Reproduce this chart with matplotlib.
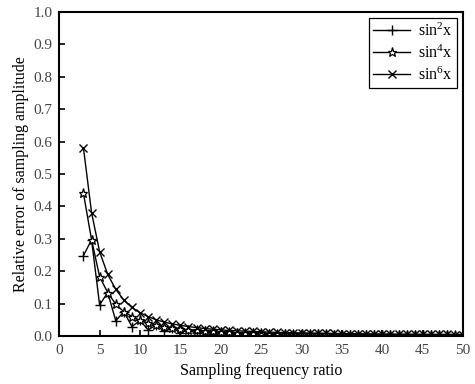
import matplotlib

matplotlib.use("Agg")
import matplotlib.pyplot as plt

ratio = list(range(3, 51))

sin2_err = [0.248, 0.297, 0.096, 0.134, 0.047, 0.075, 0.029, 0.048, 0.019, 0.034,
            0.014, 0.025, 0.010, 0.019, 0.008, 0.015, 0.0065, 0.012, 0.0055, 0.010,
            0.0047, 0.0088, 0.0041, 0.0075, 0.0036, 0.0065, 0.0032, 0.0057, 0.0029, 0.0051,
            0.0026, 0.0046, 0.0024, 0.0042, 0.0022, 0.0038, 0.0020, 0.0035, 0.0019, 0.0032,
            0.0018, 0.0030, 0.0017, 0.0028, 0.0016, 0.0026, 0.0015, 0.0024]
sin4_err = [0.440, 0.297, 0.183, 0.134, 0.098, 0.075, 0.060, 0.048, 0.040, 0.034,
            0.029, 0.025, 0.022, 0.019, 0.017, 0.015, 0.014, 0.012, 0.011, 0.010,
            0.0095, 0.0088, 0.0081, 0.0075, 0.0070, 0.0065, 0.0061, 0.0057, 0.0054, 0.0051,
            0.0048, 0.0046, 0.0044, 0.0042, 0.0040, 0.0038, 0.0036, 0.0035, 0.0034, 0.0032,
            0.0031, 0.0030, 0.0029, 0.0028, 0.0027, 0.0026, 0.0025, 0.0024]
sin6_err = [0.580, 0.381, 0.260, 0.190, 0.144, 0.111, 0.088, 0.072, 0.060, 0.050,
            0.043, 0.037, 0.033, 0.029, 0.026, 0.023, 0.021, 0.019, 0.017, 0.016,
            0.015, 0.014, 0.013, 0.012, 0.011, 0.0105, 0.0100, 0.0095, 0.0090, 0.0086,
            0.0082, 0.0078, 0.0075, 0.0072, 0.0069, 0.0066, 0.0064, 0.0062, 0.0060, 0.0058,
            0.0056, 0.0054, 0.0052, 0.0050, 0.0049, 0.0047, 0.0046, 0.0045]

labels = [r"$\mathregular{sin^2x}$", r"$\mathregular{sin^4x}$", r"$\mathregular{sin^6x}$"]
x_ticks = list(range(0, 51, 5))
y_ticks = [i / 10 for i in range(11)]

plt.rcParams["font.family"] = ["Liberation Serif", "DejaVu Serif"]
plt.rcParams["mathtext.fontset"] = "custom"
plt.rcParams["mathtext.rm"] = "Liberation Serif"

fig = plt.figure(figsize=(4.75, 3.84), dpi=100)
ax = fig.add_axes([0.1247, 0.125, 0.8503, 0.844])

ax.plot(ratio, sin2_err, color="black", linewidth=1, marker="+", markersize=6.5,
        markeredgewidth=1, label=labels[0])
ax.plot(ratio, sin4_err, color="black", linewidth=1, marker="*", markersize=6.5,
        markerfacecolor="white", markeredgewidth=0.9, label=labels[1])
ax.plot(ratio, sin6_err, color="black", linewidth=1, marker="x", markersize=5.5,
        markeredgewidth=1, label=labels[2])

ax.set_xlim(0, 50)
ax.set_ylim(0, 1.0)
ax.set_xticks(x_ticks)
ax.set_yticks(y_ticks)
ax.set_yticklabels([f"{v:.1f}" for v in y_ticks])
ax.tick_params(direction="in", length=4, width=1.2, labelsize=11,
               labelcolor="#444444", top=False, right=False)
ax.tick_params(axis="x", pad=6)
ax.tick_params(axis="y", pad=5)
for spine in ax.spines.values():
    spine.set_linewidth(1.5)
    spine.set_color("black")

ax.set_xlabel("Sampling frequency ratio", fontsize=11.5, labelpad=4)
ax.set_ylabel("Relative error of sampling amplitude", fontsize=11.5, labelpad=3)

leg = ax.legend(loc="upper right", fancybox=False, edgecolor="black", framealpha=1,
                fontsize=11.5, handlelength=2.3, borderaxespad=0.4,
                labelspacing=0.3, handletextpad=0.5, borderpad=0.25)
leg.get_frame().set_linewidth(0.9)

fig.savefig("out.png", dpi=100)
